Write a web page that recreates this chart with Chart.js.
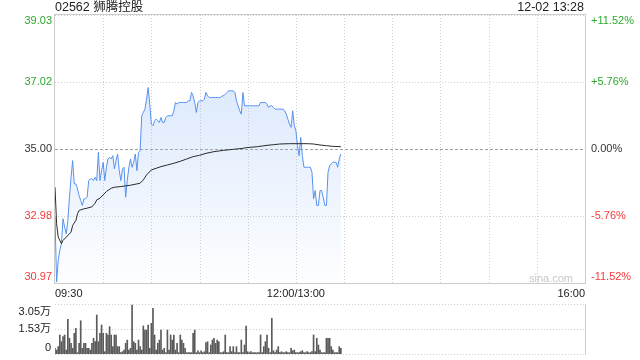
<!DOCTYPE html>
<html><head><meta charset="utf-8">
<script src="https://cdn.jsdelivr.net/npm/chart.js@4.4.1/dist/chart.umd.min.js"></script>
<style>
html,body{margin:0;padding:0;background:#fff;width:640px;height:360px;overflow:hidden;}
canvas{position:absolute;left:0;}
#p{top:0}
#v{top:300px}
</style></head><body>
<canvas id="p" width="640" height="300"></canvas>
<canvas id="v" width="640" height="60"></canvas>
<script>
const stockTitle = '02562 狮腾控股';
const stampText = '12-02 13:28';
const prevClose = 35.00;
const priceTicks = [30.968, 32.984, 35.00, 37.016, 39.032];
const priceTickLabels = ['30.97', '32.98', '35.00', '37.02', '39.03'];
const pctTickLabels = ['-11.52%', '-5.76%', '0.00%', '+5.76%', '+11.52%'];
const timeTicks = [0, 150, 330];
const timeTickLabels = ['09:30', '12:00/13:00', '16:00'];
const gridMinutes = [30, 60, 90, 120, 150, 180, 210, 240, 270, 300];

// one price per minute from 09:30 (minute 150 = 12:00/13:00)
const priceValues = [
32.95,31.00,31.65,31.95,32.15,32.90,32.65,32.45,32.85,33.55,
34.15,34.65,33.95,33.95,33.80,33.60,33.45,33.30,33.50,33.50,
33.55,34.05,34.10,34.10,34.05,34.15,34.05,34.90,34.05,34.35,
34.60,34.05,34.45,34.70,34.75,34.70,34.80,34.40,34.65,34.85,
34.35,34.05,34.40,34.45,33.55,34.05,34.45,34.70,34.45,34.60,
34.85,34.35,34.90,34.95,36.00,36.10,36.20,36.50,36.85,36.35,
35.75,35.70,35.85,35.90,35.85,35.80,35.95,35.80,35.80,35.95,
36.00,36.00,36.00,36.00,36.15,36.40,36.35,36.40,36.40,36.40,
36.40,36.40,36.40,36.45,36.45,36.70,36.60,36.40,36.10,36.40,
36.45,36.45,36.45,36.50,36.70,36.60,36.55,36.55,36.55,36.55,
36.55,36.55,36.55,36.55,36.60,36.60,36.65,36.70,36.75,36.75,
36.75,36.75,36.70,36.45,36.30,36.15,36.05,36.70,36.30,36.30,
36.30,36.30,36.30,36.30,36.30,36.30,36.30,36.30,36.40,36.40,
36.40,36.40,36.35,36.25,36.30,36.30,36.25,36.20,36.20,36.20,
36.20,36.20,36.20,36.15,36.05,35.90,35.75,35.65,36.15,35.70,
35.55,35.10,34.80,35.35,34.80,34.45,34.45,34.45,34.45,34.45,
34.30,33.50,33.75,33.30,33.30,33.75,33.75,33.55,33.30,33.30,
34.30,34.50,34.55,34.60,34.60,34.60,34.45,34.70,34.85
];

const avgMinutes = [0,1,2,4,5,7,10,11,13,14,15,18,20,23,25,26,28,30,32,35,37,41,44,47,51,53,55,57,60,63,66,70,74,78,82,86,90,94,99,105,111,117,119,126,132,136,140,146,152,157,161,165,169,173,178];
const avgValues = [33.85,32.75,32.35,32.15,32.25,32.35,32.50,32.70,32.85,33.05,33.15,33.20,33.22,33.26,33.37,33.47,33.52,33.62,33.72,33.82,33.85,33.87,33.89,33.91,33.95,33.97,34.07,34.22,34.37,34.42,34.47,34.52,34.57,34.63,34.70,34.77,34.81,34.87,34.92,34.96,34.99,35.02,35.04,35.07,35.11,35.13,35.15,35.16,35.16,35.16,35.15,35.12,35.10,35.08,35.07];

// one volume (shares) per minute
const volumeValues = [
3500,2400,4500,11600,7500,10600,11600,2400,21100,9600,6500,3500,12600,15700,800,
6500,20300,3500,6500,6500,3500,3500,2400,6500,9600,7500,23800,7500,12600,17700,12600,1400,12600,11600,16700,11600,4500,11600,11600,4500,4500,800,
1400,2400,6500,8500,2400,3500,29900,7500,6500,2400,8500,4500,2400,17100,14600,14600,17700,3500,18700,27900,11600,2400,6500,8500,14600,2400,3500,800,
14600,2400,11600,8500,11600,2400,6500,800,11600,8500,6500,3500,800,800,800,800,12600,14600,800,2000,800,2000,800,1400,6900,7500,800,
5500,8500,9600,6500,8500,7500,800,800,1400,11600,800,800,4500,1400,4500,800,4500,800,800,8500,800,5500,17100,1400,800,1400,800,
800,800,800,800,11600,800,4500,7500,11600,3500,800,21800,2000,800,2400,4500,800,1400,800,800,1400,800,800,3500,2000,2400,800,800,
800,1400,2000,800,800,1400,800,800,1400,11600,1400,9600,5500,2400,800,800,800,9600,9600,9600,4500,2400,800,800,800,4500,3500
];
const volumeTicks = [0, 15250, 30500];
const volumeTickLabels = ['0', '1.53万', '3.05万'];

const FONT = '"Liberation Sans", Arial, "Noto Sans CJK SC", sans-serif';
const GREEN = '#2ea82e', RED = '#f23b3b', DARK = '#333333', GRID = '#cfcfcf', BORDER = '#cccccc';

function tickColor(v) {
  if (Math.abs(v - prevClose) < 1e-6) return DARK;
  return v > prevClose ? GREEN : RED;
}
function hLine(c, x1, x2, y, color, dash) {
  c.save(); c.strokeStyle = color; c.lineWidth = 1; c.setLineDash(dash || []);
  c.beginPath(); c.moveTo(x1, y); c.lineTo(x2, y); c.stroke(); c.restore();
}
function vLine(c, x, y1, y2, color, dash) {
  c.save(); c.strokeStyle = color; c.lineWidth = 1; c.setLineDash(dash || []);
  c.beginPath(); c.moveTo(x, y1); c.lineTo(x, y2); c.stroke(); c.restore();
}

const priceDecor = {
  id: 'priceDecor',
  beforeDatasetsDraw(chart) {
    const c = chart.ctx, a = chart.chartArea, xs = chart.scales.x, ys = chart.scales.y;
    priceTicks.forEach(v => {
      const y = Math.round(ys.getPixelForValue(v)) + 0.5;
      if (Math.abs(v - prevClose) < 1e-6) hLine(c, a.left, a.right, y, '#a0a0a0', [3, 2]);
      else hLine(c, a.left, a.right, y, GRID, [1, 2]);
    });
    gridMinutes.forEach(m => {
      const x = Math.round(xs.getPixelForValue(m)) + 0.5;
      vLine(c, x, a.top, a.bottom, GRID, [1, 2]);
    });
  },
  afterDraw(chart) {
    const c = chart.ctx, a = chart.chartArea, xs = chart.scales.x, ys = chart.scales.y;
    c.save();
    c.strokeStyle = BORDER; c.lineWidth = 1; c.setLineDash([]);
    c.strokeRect(Math.round(a.left) - 0.5, Math.round(a.top) - 0.5, Math.round(a.right - a.left) + 1, Math.round(a.bottom - a.top) + 1);
    c.font = '12.5px ' + FONT; c.textBaseline = 'middle'; c.fillStyle = '#222';
    c.textAlign = 'left'; c.fillText(stockTitle, a.left, 8);
    c.textAlign = 'right'; c.fillText(stampText, a.right - 1, 8);
    c.font = '11px ' + FONT;
    priceTicks.forEach((v, i) => {
      let y = ys.getPixelForValue(v);
      y = Math.min(Math.max(y, a.top + 5.5), a.bottom - 6);
      c.fillStyle = tickColor(v);
      c.textAlign = 'right'; c.fillText(priceTickLabels[i], a.left - 3, y);
      c.textAlign = 'left'; c.fillText(pctTickLabels[i], a.right + 6, y);
    });
    c.fillStyle = '#222';
    timeTicks.forEach((m, i) => {
      const x = xs.getPixelForValue(m);
      c.textAlign = i === 0 ? 'left' : (i === timeTicks.length - 1 ? 'right' : 'center');
      c.fillText(timeTickLabels[i], x, 294);
    });
    c.fillStyle = '#c8c8c8'; c.textAlign = 'right';
    c.fillText('sina.com', 573, 279);
    c.restore();
  }
};

new Chart(document.getElementById('p'), {
  type: 'line',
  data: {
    datasets: [
      {
        label: 'avg',
        data: avgMinutes.map((m, i) => ({ x: m, y: avgValues[i] })),
        borderColor: '#2a2a2a', borderWidth: 1, pointRadius: 0, fill: false, order: 0
      },
      {
        label: 'price',
        data: priceValues.map((v, i) => ({ x: i, y: v })),
        borderColor: '#5791ee', borderWidth: 1, pointRadius: 0, order: 1,
        fill: 'start',
        backgroundColor: (ctx) => {
          const ch = ctx.chart, a = ch.chartArea;
          if (!a) return 'rgba(150,190,245,0.2)';
          const g = ch.ctx.createLinearGradient(0, a.top + 60, 0, a.bottom);
          g.addColorStop(0, 'rgba(150,188,245,0.34)');
          g.addColorStop(1, 'rgba(150,188,245,0.02)');
          return g;
        }
      }
    ]
  },
  options: {
    responsive: false, animation: false, events: [],
    layout: { padding: { left: 55, right: 55, top: 15, bottom: 17 } },
    scales: {
      x: { type: 'linear', min: 0, max: 330, display: false },
      y: { type: 'linear', min: priceTicks[0], max: priceTicks[priceTicks.length - 1], display: false }
    },
    plugins: { legend: { display: false }, tooltip: { enabled: false } }
  },
  plugins: [priceDecor]
});

const volDecor = {
  id: 'volDecor',
  beforeDatasetsDraw(chart) {
    const c = chart.ctx, a = chart.chartArea, ys = chart.scales.y;
    volumeTicks.forEach(v => {
      const y = Math.round(ys.getPixelForValue(v)) + 0.5;
      hLine(c, a.left, a.right, y, GRID, [1, 2]);
    });
  },
  afterDraw(chart) {
    const c = chart.ctx, a = chart.chartArea, ys = chart.scales.y;
    c.save();
    vLine(c, Math.round(a.right) + 0.5, Math.round(a.top), Math.round(a.bottom) + 1, BORDER, []);
    c.font = '11px ' + FONT; c.textBaseline = 'middle'; c.fillStyle = '#222'; c.textAlign = 'right';
    volumeTicks.forEach((v, i) => {
      let y = ys.getPixelForValue(v);
      y = Math.min(Math.max(y, a.top + 8), a.bottom - 6);
      c.fillText(volumeTickLabels[i], a.left - 4, y);
    });
    c.restore();
  }
};

new Chart(document.getElementById('v'), {
  type: 'bar',
  data: {
    datasets: [{
      label: 'volume',
      data: volumeValues.map((v, i) => ({ x: i, y: v })),
      backgroundColor: '#5a5a5a', barThickness: 1, borderWidth: 0
    }]
  },
  options: {
    responsive: false, animation: false, events: [],
    layout: { padding: { left: 55, right: 55, top: 4, bottom: 6 } },
    scales: {
      x: { type: 'linear', min: 0, max: 330, display: false, offset: false },
      y: { type: 'linear', min: 0, max: volumeTicks[volumeTicks.length - 1], display: false }
    },
    plugins: { legend: { display: false }, tooltip: { enabled: false } }
  },
  plugins: [volDecor]
});
</script>
</body></html>
